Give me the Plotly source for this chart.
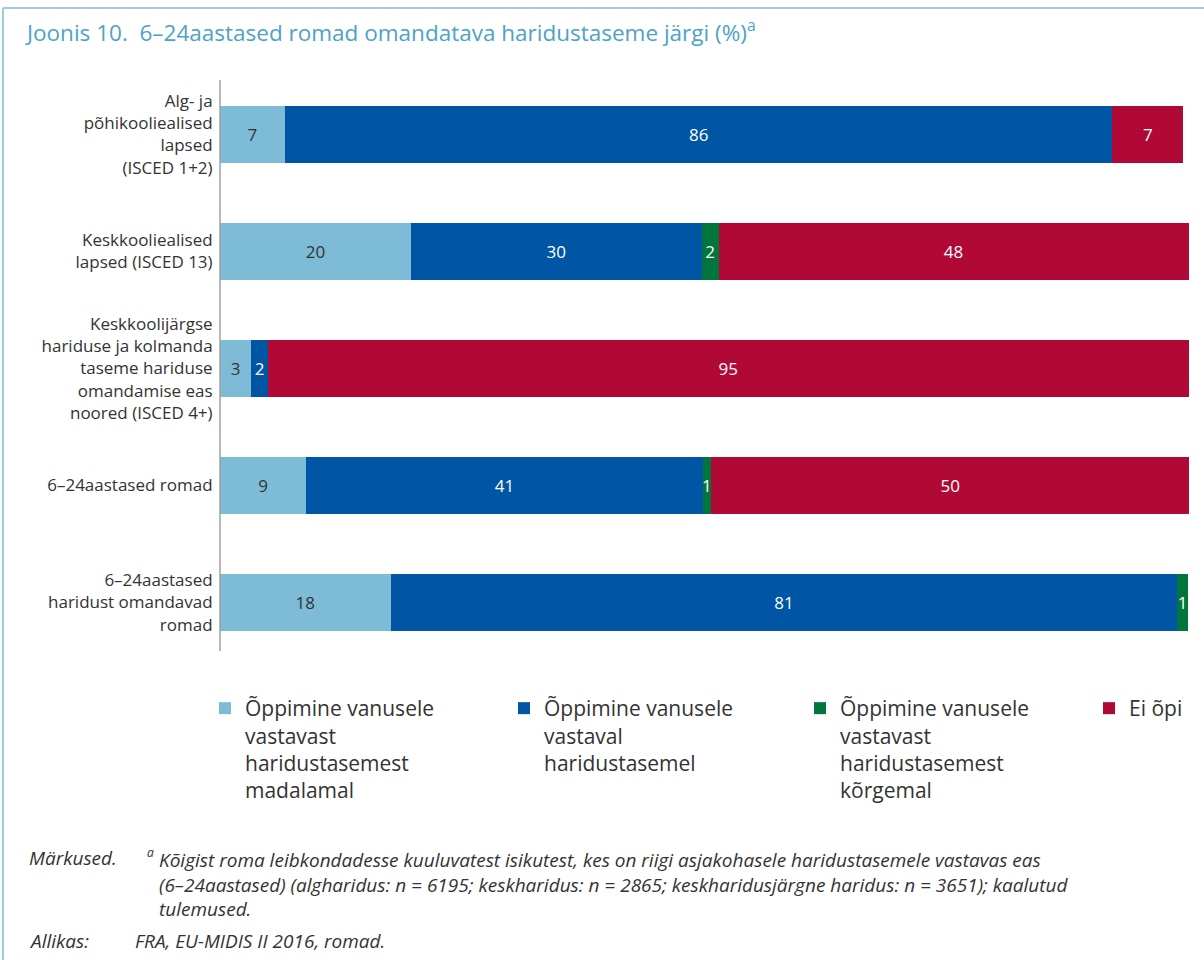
import plotly.graph_objects as go

categories = [
    "Alg- ja<br>põhikooliealised<br>lapsed<br>(ISCED 1+2)",
    "Keskkooliealised<br>lapsed (ISCED 13)",
    "Keskkoolijärgse<br>hariduse ja kolmanda<br>taseme hariduse<br>omandamise eas<br>noored (ISCED 4+)",
    "6–24aastased romad",
    "6–24aastased<br>haridust omandavad<br>romad",
]
series_names = [
    "Õppimine vanusele<br>vastavast<br>haridustasemest<br>madalamal",
    "Õppimine vanusele<br>vastaval<br>haridustasemel",
    "Õppimine vanusele<br>vastavast<br>haridustasemest<br>kõrgemal",
    "Ei õpi",
]
# bar lengths (%)
low_vals = [6.7, 19.7, 3.2, 8.9, 17.6]
same_vals = [85.4, 30.0, 1.75, 40.9, 81.2]
high_vals = [None, 1.75, None, 0.9, 1.1]
none_vals = [7.3, 48.5, 95.0, 49.3, None]
# printed labels
low_lbl = ["7", "20", "3", "9", "18"]
same_lbl = ["86", "30", "2", "41", "81"]
high_lbl = [None, "2", None, "1", "1"]
none_lbl = ["7", "48", "95", "50", None]

colors = ["#7DBBD7", "#0055A4", "#00753C", "#B10936"]
text_colors = ["#333333", "white", "white", "white"]
legend_ids = ["legend", "legend2", "legend3", "legend4"]
legend_px = [205, 504, 800, 1089]

W, H = 1204, 960
L, R, T, B = 220, 15, 76, 299
pw = W - L - R
ph = H - T - B


def px(x):
    return (x - L) / pw


def py(y):
    return (H - B - y) / ph


font = "Open Sans"
fig = go.Figure()
for vals, lbl, name, col, tc, lg in zip(
    [low_vals, same_vals, high_vals, none_vals],
    [low_lbl, same_lbl, high_lbl, none_lbl],
    series_names, colors, text_colors, legend_ids,
):
    ys = [c for c, v in zip(categories, vals) if v is not None]
    xs = [v for v in vals if v is not None]
    ts = [t for t, v in zip(lbl, vals) if v is not None]
    fig.add_trace(go.Bar(
        y=ys, x=xs, orientation="h", name=name, legend=lg,
        marker=dict(color=col, line=dict(width=0)),
        text=ts, textposition="inside", insidetextanchor="middle",
        textfont=dict(color=tc, size=17, family=font),
        constraintext="none",
    ))

legends = {}
for lg, lx in zip(legend_ids, legend_px):
    legends[lg] = dict(
        orientation="h", x=px(lx), xanchor="left", y=py(688), yanchor="top",
        valign="top", font=dict(size=21, color="#333333", family=font),
        itemclick=False, itemdoubleclick=False, bgcolor="rgba(0,0,0,0)",
    )

fig.update_layout(
    width=W, height=H,
    margin=dict(l=L, r=R, t=T, b=B, autoexpand=False),
    barmode="stack", bargap=0.51,
    paper_bgcolor="white", plot_bgcolor="white",
    font=dict(family=font, color="#333333"),
    uniformtext=dict(minsize=17, mode="show"),
    xaxis=dict(range=[0, 100], visible=False, fixedrange=True),
    yaxis=dict(
        categoryorder="array", categoryarray=categories,
        autorange="reversed", showgrid=False, showline=False, zeroline=False,
        ticks="outside", ticklen=3, tickcolor="rgba(0,0,0,0)",
        tickfont=dict(size=17, color="#333333", family=font),
        fixedrange=True,
    ),
    title=dict(
        text="Joonis 10.\u00a0 6–24aastased romad omandatava haridustaseme järgi (%)<sup>a</sup>",
        x=27 / W, xanchor="left", y=1 - 33 / H, yanchor="middle",
        font=dict(size=22.5, color="#4BA3C8", family=font),
    ),
    showlegend=True,
    **legends,
)

# axis line
fig.add_shape(type="line", xref="paper", yref="paper", x0=0, x1=0,
              y0=py(80), y1=py(651), line=dict(color="#A0A0A0", width=1.5))
# frame
fig.add_shape(type="line", xref="paper", yref="paper", x0=px(3), x1=px(1210),
              y0=py(8), y1=py(8), line=dict(color="#7CBAD6", width=1.5))
fig.add_shape(type="line", xref="paper", yref="paper", x0=px(3), x1=px(3),
              y0=py(8), y1=py(965), line=dict(color="#7CBAD6", width=1.5))

note_font = dict(size=19, color="#333333", family=font)
note_lines = [
    "Kõigist roma leibkondadesse kuuluvatest isikutest, kes on riigi asjakohasele haridustasemele vastavas eas",
    "(6–24aastased) (algharidus: n = 6195; keskharidus: n = 2865; keskharidusjärgne haridus: n = 3651); kaalutud",
    "tulemused.",
]


def note(x, y, text, f=note_font, yanchor="middle"):
    fig.add_annotation(xref="paper", yref="paper", x=px(x), y=py(y), xanchor="left",
                       yanchor=yanchor, align="left", text=text, showarrow=False, font=f)


note(27, 858, "<i>Märkused.</i>")
note(145, 852, "<i>a</i>", dict(size=12, color="#333333", family=font))
note(157, 845, "<i>" + "<br>".join(note_lines) + "</i>", yanchor="top")
note(27, 941, "<i>Allikas:</i>")
note(133, 941, "<i>FRA, EU-MIDIS II 2016, romad.</i>")

fig.write_html("out.html", post_script="document.body.style.margin='0';",
               config={"displayModeBar": False})
